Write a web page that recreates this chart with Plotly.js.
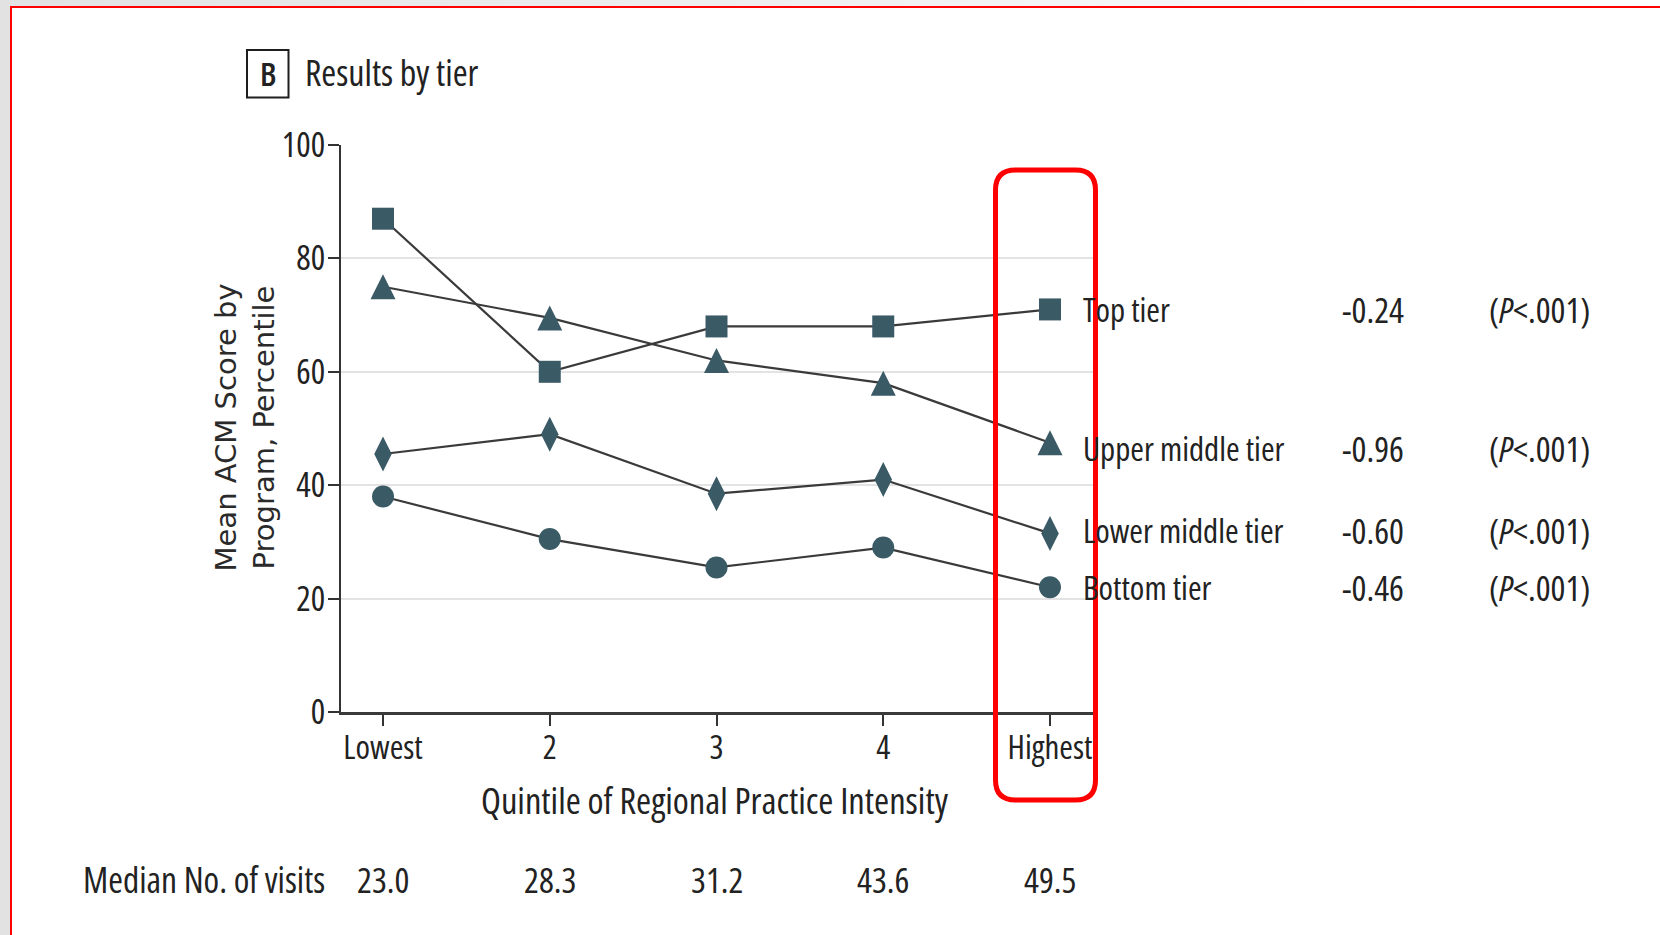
<!DOCTYPE html>
<html>
<head>
<meta charset="utf-8">
<script src="https://cdn.plot.ly/plotly-3.0.1.min.js"></script>
<style>
  html, body { margin: 0; padding: 0; }
  body { width: 1660px; height: 935px; overflow: hidden;
         background: linear-gradient(to right, #e2e2e2 0%, #efefef 45%, #ffffff 100%); }
  #chart { width: 1660px; height: 935px; }
  /* condensed face for the chart lettering */
  text { font-stretch: 75%; }
  /* the rotated y title keeps a normal width */
  .annotation[data-index="0"] text { font-stretch: 100%; }
</style>
</head>
<body>
<div id="chart"></div>
<script>
// Quintile categories and the row of median visit counts beneath them
const quintiles = ['Lowest', '2', '3', '4', 'Highest'];
const medianVisits = ['23.0', '28.3', '31.2', '43.6', '49.5'];

// Mean ACM score (percentile) for each tier across the quintiles
const topTier         = [87, 60, 68, 68, 71];
const upperMiddleTier = [75, 69.5, 62, 58, 47.5];
const lowerMiddleTier = [45.5, 49, 38.5, 41, 31.5];
const bottomTier      = [38, 30.5, 25.5, 29, 22];

// Right-hand labels: tier name, slope and P value
const tierNames = ['Top tier', 'Upper middle tier', 'Lower middle tier', 'Bottom tier'];
const slopes    = ['-0.24', '-0.96', '-0.60', '-0.46'];
const pLabels   = ['P<.001', 'P<.001', 'P<.001', 'P<.001'];

const yTicks = [0, 20, 40, 60, 80, 100];

// ---- styling ----
const NARROW = '"Open Sans", sans-serif';
const INK = '#222222';
const MARK = '#3a5a66';
const LINE = '#3a3a3a';

const W = 1660, H = 935;
const M = {l: 341, r: 566, t: 145, b: 223};
const plotW = W - M.l - M.r, plotH = H - M.t - M.b;
const xRange = [-0.252, 4.264];
const yRange = [0, 100];
// convert page pixels to paper fractions for the decorations
const px = v => (v - M.l) / plotW;
const py = v => (H - M.b - v) / plotH;

const xIdx = quintiles.map((_, i) => i);
const series = [topTier, upperMiddleTier, lowerMiddleTier, bottomTier];
const symbols = ['square', 'arrow-up', 'diamond-tall', 'circle'];
const sizes = [22, 25, 25, 22];

// the arrow-up glyph hangs below its anchor, so its markers sit on an
// overlay axis lifted by half the glyph height to centre them on the line
const lift = sizes[1] / 2;
const liftUnits = lift * (yRange[1] - yRange[0]) / plotH;

const traces = [];
series.forEach((vals, i) => {
  traces.push({
    x: xIdx, y: vals, type: 'scatter', mode: 'lines',
    line: {color: LINE, width: 2.2}, hoverinfo: 'skip', showlegend: false
  });
});
series.forEach((vals, i) => {
  traces.push({
    x: xIdx, y: vals, type: 'scatter', mode: 'markers',
    yaxis: symbols[i] === 'arrow-up' ? 'y2' : 'y',
    marker: {symbol: symbols[i], size: sizes[i], color: MARK, line: {width: 0}},
    name: tierNames[i], showlegend: false, cliponaxis: false
  });
});

const annotations = [];

// y axis title (two lines, rotated) -- kept first, see stylesheet
annotations.push({xref: 'paper', yref: 'paper', x: px(245), y: py(428),
  xanchor: 'center', yanchor: 'middle', showarrow: false, textangle: -90,
  text: 'Mean ACM Score by<br>Program, Percentile',
  font: {family: '"DejaVu Sans", Verdana, sans-serif', size: 29, color: '#2a2a2a'}});

// panel heading
annotations.push({xref: 'paper', yref: 'paper', x: px(267.5), y: py(74),
  xanchor: 'center', yanchor: 'middle', showarrow: false, text: 'B',
  font: {family: NARROW, size: 33, color: INK, weight: 600}});
annotations.push({xref: 'paper', yref: 'paper', x: px(303), y: py(72),
  xanchor: 'left', yanchor: 'middle', showarrow: false, text: 'Results by tier',
  font: {family: NARROW, size: 36, color: INK}});

// x axis title
annotations.push({xref: 'paper', yref: 'paper', x: px(715), y: py(800),
  xanchor: 'center', yanchor: 'middle', showarrow: false,
  text: 'Quintile of Regional Practice Intensity',
  font: {family: NARROW, size: 36.5, color: INK}});

// median visits row
annotations.push({xref: 'paper', yref: 'paper', x: px(327), y: py(879),
  xanchor: 'right', yanchor: 'middle', showarrow: false, text: 'Median No. of visits',
  font: {family: NARROW, size: 35.5, color: INK}});
medianVisits.forEach((v, i) => {
  annotations.push({xref: 'x', yref: 'paper', x: xIdx[i], y: py(879),
    xanchor: 'center', yanchor: 'middle', showarrow: false, text: v,
    font: {family: NARROW, size: 35, color: INK}});
});

// tier labels to the right of the last point
const labelNudge = [0, -6, 3, 0];
const last = quintiles.length - 1;
series.forEach((vals, i) => {
  const base = {xref: 'x', yref: 'y', x: xIdx[last], y: vals[last], xanchor: 'left',
    yanchor: 'middle', showarrow: false, yshift: labelNudge[i],
    font: {family: NARROW, size: 33, color: INK}};
  annotations.push(Object.assign({}, base, {text: tierNames[i], xshift: 31}));
  annotations.push(Object.assign({}, base, {text: slopes[i], xshift: 290,
    font: {family: NARROW, size: 35, color: INK}}));
  const p = pLabels[i].replace('<', '&lt;');
  annotations.push(Object.assign({}, base, {
    text: '(<i>' + p.charAt(0) + '</i>' + p.slice(1) + ')', xshift: 437,
    font: {family: NARROW, size: 35, color: INK}}));
});

// rounded highlight around the highest quintile
function roundRect(x0, y0, x1, y1, r) {
  const rx = r / plotW, ry = r / plotH;
  const L = px(x0), R = px(x1), T = py(y0), B = py(y1);
  return `M ${L + rx},${T} L ${R - rx},${T} Q ${R},${T} ${R},${T - ry} ` +
         `L ${R},${B + ry} Q ${R},${B} ${R - rx},${B} L ${L + rx},${B} ` +
         `Q ${L},${B} ${L},${B + ry} L ${L},${T - ry} Q ${L},${T} ${L + rx},${T} Z`;
}

const shapes = [
  // page sheet with red frame
  {type: 'rect', xref: 'paper', yref: 'paper', layer: 'below',
   x0: px(11), x1: px(1680), y0: py(7), y1: py(960),
   fillcolor: '#ffffff', line: {color: '#ff0000', width: 2}},
  // "B" box
  {type: 'rect', xref: 'paper', yref: 'paper',
   x0: px(247), x1: px(288.5), y0: py(50), y1: py(97.5),
   fillcolor: 'rgba(0,0,0,0)', line: {color: '#1e1e1e', width: 2}},
  // highlight box
  {type: 'path', xref: 'paper', yref: 'paper', path: roundRect(995.5, 170, 1095.5, 800, 20),
   fillcolor: 'rgba(0,0,0,0)', line: {color: '#ff0000', width: 5}}
];

const layout = {
  width: W, height: H,
  margin: M,
  paper_bgcolor: 'rgba(0,0,0,0)',
  plot_bgcolor: 'rgba(0,0,0,0)',
  showlegend: false,
  font: {family: NARROW, color: INK},
  xaxis: {
    range: xRange, tickvals: xIdx, ticktext: quintiles,
    showgrid: false, zeroline: false, showline: true,
    linecolor: '#3a3a3a', linewidth: 3,
    ticks: 'outside', ticklen: 11, tickwidth: 2, tickcolor: '#333',
    ticklabelstandoff: -7,
    tickfont: {family: NARROW, size: 33, color: INK}, fixedrange: true
  },
  yaxis: {
    range: yRange, tickvals: yTicks,
    showgrid: true, gridcolor: '#e3e3e3', gridwidth: 2,
    zeroline: false, showline: true, linecolor: '#333', linewidth: 2,
    ticks: 'outside', ticklen: 11, tickwidth: 2, tickcolor: '#333',
    ticklabelstandoff: -4,
    tickfont: {family: NARROW, size: 34, color: INK}, fixedrange: true
  },
  yaxis2: {
    overlaying: 'y', range: [yRange[0] - liftUnits, yRange[1] - liftUnits],
    visible: false, fixedrange: true
  },
  annotations: annotations,
  shapes: shapes
};

Plotly.newPlot('chart', traces, layout, {staticPlot: true, displayModeBar: false});
</script>
</body>
</html>
